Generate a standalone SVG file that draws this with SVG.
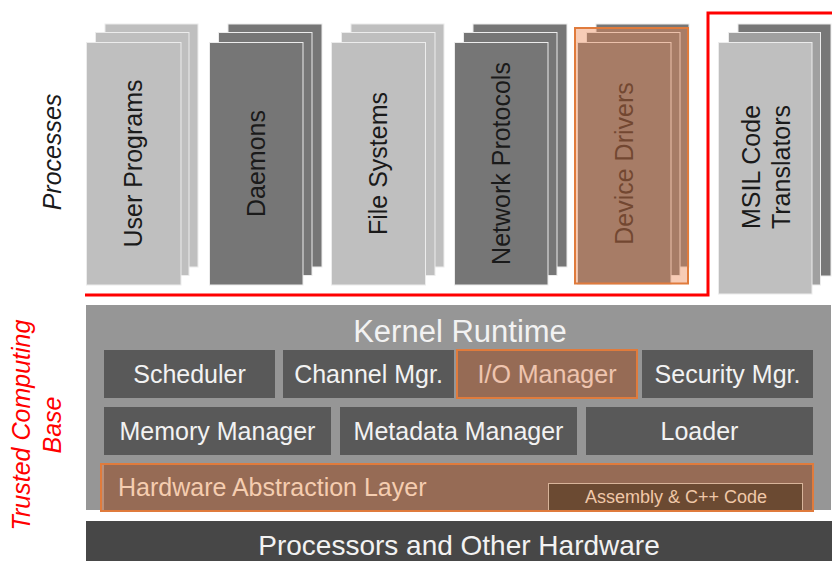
<svg xmlns="http://www.w3.org/2000/svg" width="832" height="561" viewBox="0 0 832 561">
<style>
text{font-family:"Liberation Sans",Arial,sans-serif;}
.lt{fill:#bfbfbf;stroke:#ececec;stroke-width:1}
.md{fill:#a0a0a0;stroke:#ececec;stroke-width:1}
.dk{fill:#767676;stroke:#ececec;stroke-width:1}
.ct{font-size:25px;fill:#1a1a1a;text-anchor:middle}
.bx{fill:#595959}
.bt{font-size:25px;fill:#f2f2f2;text-anchor:middle}
.ov{fill:#ec8650;fill-opacity:0.42}
.os{fill:none;stroke:#e07b3c;stroke-width:2}
</style>
<rect width="832" height="561" fill="#ffffff"/>

<text transform="translate(61,152) rotate(-90)" font-size="25" font-style="italic" fill="#1a1a1a" text-anchor="middle">Processes</text>
<g fill="#ff0000" font-size="25" font-style="italic" text-anchor="middle">
<text transform="translate(29.5,425) rotate(-90)">Trusted Computing</text>
<text transform="translate(61,425) rotate(-90)">Base</text>
</g>

<g id="user-programs">
<rect class="lt" x="105" y="24" width="93" height="243"/>
<rect class="lt" x="95.5" y="32.5" width="93.5" height="243"/>
<rect class="lt" x="86.5" y="42.5" width="94.5" height="242.5"/>
<text class="ct" transform="translate(142,163.5) rotate(-90)">User Programs</text>
</g>
<g id="daemons">
<rect class="dk" x="228" y="24" width="94" height="243"/>
<rect class="dk" x="218.5" y="32.5" width="93.5" height="243"/>
<rect class="dk" x="209.5" y="42.5" width="93.5" height="242.5"/>
<text class="ct" transform="translate(265,163.5) rotate(-90)">Daemons</text>
</g>
<g id="file-systems">
<rect class="lt" x="351" y="24" width="93" height="243"/>
<rect class="lt" x="341.5" y="32.5" width="93.5" height="243"/>
<rect class="lt" x="331.5" y="42.5" width="94" height="242.5"/>
<text class="ct" transform="translate(387,163.5) rotate(-90)">File Systems</text>
</g>
<g id="network-protocols">
<rect class="dk" x="473" y="24" width="94" height="243"/>
<rect class="dk" x="463.5" y="32.5" width="93.5" height="243"/>
<rect class="dk" x="454.5" y="42.5" width="93.5" height="242.5"/>
<text class="ct" transform="translate(510,163.5) rotate(-90)">Network Protocols</text>
</g>
<g id="device-drivers">
<rect class="dk" x="596" y="24" width="93" height="243"/>
<rect class="dk" x="586.5" y="32.5" width="93.5" height="243"/>
<rect class="dk" x="577.5" y="42.5" width="93.5" height="242"/>
<text class="ct" transform="translate(633,163.5) rotate(-90)">Device Drivers</text>
<rect class="ov" x="575" y="28" width="113" height="255.5"/>
<rect class="os" x="575" y="28" width="113" height="255.5"/>
</g>
<g id="msil-code-translators">
<rect fill="#777777" stroke="#ececec" x="738" y="24" width="93" height="252"/>
<rect class="md" x="728.5" y="32.5" width="92" height="252.5"/>
<rect class="lt" x="718.5" y="42.5" width="93.5" height="251.5"/>
<text class="ct" transform="translate(760,167) rotate(-90)">MSIL Code</text>
<text class="ct" transform="translate(790,167) rotate(-90)">Translators</text>
</g>

<g id="kernel-runtime">
<rect x="86" y="305" width="745" height="205" fill="#969696"/>
<text x="460" y="342" font-size="31" fill="#f2f2f2" text-anchor="middle">Kernel Runtime</text>
</g>
<g id="scheduler">
<rect class="bx" x="104" y="350" width="171" height="48"/>
<text class="bt" x="189.5" y="383">Scheduler</text>
</g>
<g id="channel-mgr">
<rect class="bx" x="283" y="350" width="171" height="48"/>
<text class="bt" x="368.5" y="383">Channel Mgr.</text>
</g>
<g id="io-manager">
<rect class="bx" x="457" y="350" width="180" height="48"/>
<text class="bt" x="547" y="383">I/O Manager</text>
<rect class="ov" x="457" y="350" width="180" height="48"/>
<rect class="os" x="457" y="350" width="180" height="48"/>
</g>
<g id="security-mgr">
<rect class="bx" x="642" y="350" width="171" height="48"/>
<text class="bt" x="727.5" y="383">Security Mgr.</text>
</g>
<g id="memory-manager">
<rect class="bx" x="104" y="407" width="227" height="48"/>
<text class="bt" x="217.5" y="440">Memory Manager</text>
</g>
<g id="metadata-manager">
<rect class="bx" x="340" y="407" width="237" height="48"/>
<text class="bt" x="458.5" y="440">Metadata Manager</text>
</g>
<g id="loader">
<rect class="bx" x="586" y="407" width="227" height="48"/>
<text class="bt" x="699.5" y="440">Loader</text>
</g>
<g id="hal">
<rect class="bx" x="104" y="464" width="709" height="47"/>
<rect class="ov" x="101" y="464" width="712" height="47"/>
<text x="118" y="496" font-size="25" fill="#f5cdb0">Hardware Abstraction Layer</text>
</g>
<g id="assembly-code">
<rect x="548.5" y="483.5" width="254" height="27" fill="#6b4a32" stroke="#d8b49a" stroke-width="1"/>
<text x="676" y="503" font-size="18" fill="#f0c8a8" text-anchor="middle">Assembly &amp; C++ Code</text>
</g>
<rect class="os" x="101" y="464" width="712" height="47"/>

<g id="processors">
<rect x="86" y="521" width="746" height="40" fill="#474747"/>
<text x="459" y="555" font-size="28" fill="#f2f2f2" text-anchor="middle">Processors and Other Hardware</text>
</g>

<g id="connectors">
<path d="M85,295 H708 V13 H832" fill="none" stroke="#ff0000" stroke-width="3"/>
</g>
</svg>
